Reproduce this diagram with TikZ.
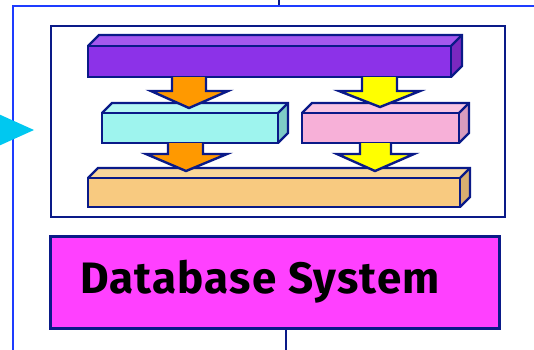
\documentclass[tikz,border=0pt]{standalone}
\usepackage{fontspec}
\setmainfont{Fira Sans}
\definecolor{navy}{HTML}{0A1A88}
\definecolor{frameblue}{HTML}{1E3CFF}
\definecolor{tricyan}{HTML}{00C8F0}
\definecolor{purF}{HTML}{8C32E8}\definecolor{purT}{HTML}{A558EE}\definecolor{purS}{HTML}{7A28C0}
\definecolor{cyaF}{HTML}{9EF4EE}\definecolor{cyaT}{HTML}{B4F7F3}\definecolor{cyaS}{HTML}{7ECBC6}
\definecolor{pnkF}{HTML}{F7B0D8}\definecolor{pnkT}{HTML}{F9C4E2}\definecolor{pnkS}{HTML}{D89BBE}
\definecolor{tanF}{HTML}{F8CA80}\definecolor{tanT}{HTML}{F9D69A}\definecolor{tanS}{HTML}{D8AF70}
\definecolor{dbmag}{HTML}{FF40FF}
\definecolor{arrO}{HTML}{FF9900}
\definecolor{arrY}{HTML}{FFFF00}
\tikzset{
  edge/.style={draw=navy,line width=2.4pt,line join=miter},
  blockarrow/.style={line width=2.4pt,draw=navy,line join=miter}
}
% cuboid: x1 y1 x2 y2 depth front top side
\newcommand{\mycuboid}[8]{%
  \fill[#6] (#1,#2) rectangle (#3,#4);
  \fill[#7] (#1,#2) -- ++(#5,-#5) -- (#3+#5,#2-#5) -- (#3,#2) -- cycle;
  \fill[#8] (#3,#2) -- (#3+#5,#2-#5) -- (#3+#5,#4-#5) -- (#3,#4) -- cycle;
  \draw[edge] (#1,#2) rectangle (#3,#4);
  \draw[edge] (#1,#2) -- ++(#5,-#5) -- (#3+#5,#2-#5) -- (#3+#5,#4-#5) -- (#3,#4);
  \draw[edge] (#3,#2) -- (#3+#5,#2-#5);
}
% block arrow: shaft x1 x2, y top, y shoulder, head x1 x2, tip x y, colour
\newcommand{\myblockarrow}[9]{%
  \fill[#9] (#1,#3) -- (#1,#4) -- (#5,#4) -- (#7,#8) -- (#6,#4) -- (#2,#4) -- (#2,#3) -- cycle;
  \draw[blockarrow] (#1,#3) -- (#1,#4) -- (#5,#4) -- (#7,#8) -- (#6,#4) -- (#2,#4) -- (#2,#3);
}
\begin{document}
\begin{tikzpicture}[x=1pt,y=-1pt]
\useasboundingbox (0,0) rectangle (534,349);
\clip (0,0) rectangle (534,349);
\fill[white] (0,0) rectangle (534,349);
% outer blue frame
\draw[frameblue,line width=2.6pt] (13,360) -- (13,6) -- (545,6);
% top tick and bottom line
\coordinate (ttop) at (279,0);
\coordinate (tbot) at (279,5);
\draw[navy,line width=2pt] (ttop) -- (tbot);
% cyan arrow head
\fill[tricyan] (-6,112) -- (34,130) -- (-6,148) -- cycle;
% inner box
\node[draw=navy,line width=2.4pt,fill=white,minimum width=454pt,minimum height=191pt,inner sep=0pt,anchor=north west] (inner) at (50,25) {};
% bars
\mycuboid{88}{46}{451}{77}{11}{purF}{purT}{purS}
\mycuboid{102}{113}{278}{143}{10}{cyaF}{cyaT}{cyaS}
\mycuboid{302}{113}{459}{143}{10}{pnkF}{pnkT}{pnkS}
\mycuboid{88}{178}{460}{207}{10}{tanF}{tanT}{tanS}
% arrows
\myblockarrow{172}{206}{77}{91}{151}{228}{189}{108}{arrO}
\myblockarrow{168}{203}{143}{154}{146}{227}{186}{171}{arrO}
\myblockarrow{362}{397}{77}{91}{339}{420}{380}{107}{arrY}
\myblockarrow{360}{391}{143}{154}{337}{414}{375}{171}{arrY}
% database box
\node[draw=navy,line width=2.6pt,fill=dbmag,minimum width=449pt,minimum height=92pt,inner sep=0pt,anchor=north west] (db) at (49,235) {};
\node[anchor=base west,inner sep=0pt,font=\fontsize{44}{44}\selectfont\bfseries\addfontfeature{LetterSpace=2.7}] (dbtext) at (80,293) {Database System};
\coordinate (dbout) at (286,355);
\draw[navy,line width=2.4pt] (db.south -| dbout) -- (dbout);
\end{tikzpicture}
\end{document}
